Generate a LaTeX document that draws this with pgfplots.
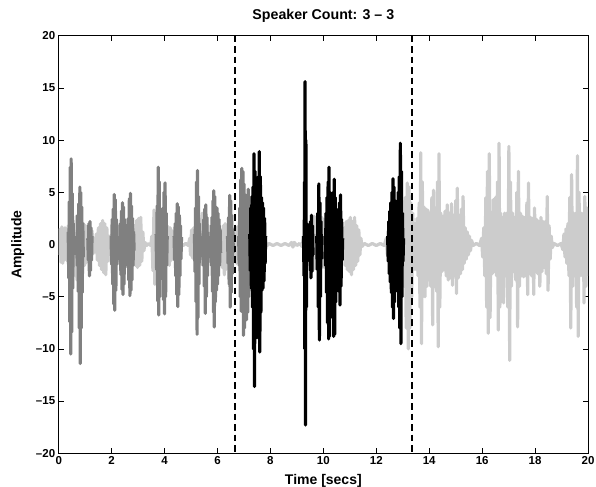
\documentclass[border=0pt]{standalone}
\usepackage{fontspec}
\setmainfont{Liberation Sans}
\usepackage{pgfplots}
\pgfplotsset{compat=1.18}

\definecolor{spkA}{rgb}{0.8,0.8,0.8}
\definecolor{spkB}{rgb}{0.5,0.5,0.5}
\definecolor{spkC}{rgb}{0,0,0}

\begin{document}
\begin{tikzpicture}
\useasboundingbox (-58.7pt,-33pt) rectangle (537.3pt,453.3pt);
\begin{axis}[
    scale only axis,
    width=529.3pt, height=417.6pt,
    xmin=0, xmax=20, ymin=-20, ymax=20,
    xtick={0,2,...,20},
    xticklabels={0,2,4,6,8,10,12,14,16,18,20},
    ytick={-20,-15,...,20},
    yticklabels={--20,--15,--10,--5,0,5,10,15,20},
    tick label style={font=\fontsize{11.5}{13}\selectfont\bfseries},
    tick align=inside,
    major tick length=5pt,
    tick style={black, line width=0.7pt},
    axis line style={line width=0.8pt},
    title={Speaker Count: 3 -- 3},
    title style={font=\fontsize{14.2}{16}\selectfont\bfseries, at={(axis description cs:0.5,1.0256)}, anchor=base},
    xlabel={Time [secs]},
    xlabel style={font=\fontsize{14}{16}\selectfont\bfseries, at={(axis description cs:0.5,0)}, anchor=base, yshift=-31pt},
    ylabel={Amplitude},
    ylabel style={font=\fontsize{14}{16}\selectfont\bfseries, at={(axis description cs:-0.0703,0.5)}, anchor=base},
    unbounded coords=jump,
    wave/.style={line width=3.2pt, line join=round, mark=none},
]

% speaker 3 / background signal (light gray)
\addplot[wave, spkA] table {
t y
0.00 0.3
0.03 -0.9
0.06 1.5
0.09 -1.7
0.12 1.7
0.15 -1.8
0.18 1.4
0.21 -1.5
0.24 1.6
0.27 -1.4
0.30 1.2
0.33 -1.6
0.36 1.8
0.40 -2.0
0.44 1.9
0.48 -2.2
0.52 2.0
0.56 -2.4
0.60 2.2
0.63 -3.0
0.66 2.7
0.69 -3.4
0.72 2.6
0.75 -3.2
0.78 2.4
0.82 -2.8
0.86 2.2
0.90 -2.4
0.94 2.0
0.98 -2.0
1.02 1.8
1.06 -1.7
1.10 1.6
1.14 -1.5
1.18 1.6
1.22 -1.4
1.26 1.3
1.30 -0.9
1.34 0.6
1.38 -0.7
1.42 1.0
1.46 -1.5
1.50 1.6
1.54 -2.0
1.58 2.0
1.62 -2.4
1.66 2.3
1.70 -2.7
1.74 2.0
1.78 -2.9
1.82 1.6
1.86 -1.6
1.90 0.8
1.94 -0.5
1.98 0.9
2.02 -1.6
2.06 1.8
2.10 -1.8
2.14 1.7
2.18 -1.6
2.22 1.5
2.26 -1.5
2.30 1.8
2.34 -1.7
2.38 1.6
2.42 -1.6
2.46 1.7
2.50 -1.8
2.54 1.6
2.58 -1.5
2.62 1.7
2.66 -1.7
2.70 1.5
2.74 -1.6
2.78 1.4
2.82 -1.5
2.86 1.8
2.90 -2.0
2.94 2.3
2.98 -2.2
3.02 2.5
3.06 -2.0
3.10 2.6
3.14 -1.6
3.18 1.2
3.22 -0.6
3.26 0.2
3.32 -0.1
3.40 0.1
3.48 -0.1
3.52 0.8
3.56 -2.5
3.60 3.3
3.63 -3.8
3.66 3.0
3.70 -3.2
3.74 2.6
3.78 -2.8
3.82 2.4
3.86 -2.6
3.90 2.2
3.94 -2.4
3.98 2.0
4.02 -2.2
4.06 2.0
4.10 -1.9
4.14 1.7
4.18 -2.0
4.22 1.6
4.26 -1.5
4.30 1.3
4.34 -1.3
4.38 1.2
4.42 -1.2
4.46 1.0
4.50 -1.0
4.54 0.7
4.58 -0.4
4.62 0.1
4.70 -0.1
4.80 0.1
4.90 -0.1
4.95 0.6
4.98 -1.0
5.02 1.4
5.06 -1.3
5.10 1.6
5.14 -1.4
5.18 1.5
5.22 -1.6
5.26 1.8
5.30 -1.8
5.34 2.4
5.38 -1.9
5.42 3.0
5.46 -1.8
5.50 2.6
5.54 -1.9
5.58 2.2
5.62 -1.8
5.66 1.8
5.70 -1.6
5.74 1.6
5.78 -1.6
5.82 1.5
5.86 -1.5
5.90 1.4
5.94 -1.4
5.98 1.4
6.02 -1.3
6.06 1.2
6.10 -1.2
6.14 1.4
6.18 -2.2
6.22 1.8
6.26 -2.9
6.29 2.0
6.32 -2.4
6.36 1.6
6.40 -1.6
6.44 1.5
6.48 -1.6
6.52 1.6
6.56 -1.6
6.60 1.5
6.64 -1.6
6.68 1.6
6.72 -1.8
6.76 1.7
6.80 -1.8
6.84 1.8
6.88 -2.0
6.92 2.0
6.96 -2.0
7.00 2.0
7.04 -2.0
7.08 2.0
7.12 -2.0
7.16 1.8
7.20 -1.8
7.24 1.6
7.28 -1.6
7.32 1.5
7.36 -1.5
7.40 1.5
7.44 -1.5
7.48 1.4
7.52 -1.4
7.56 1.2
7.60 -1.2
7.64 1.0
7.68 -1.0
7.72 0.8
7.76 -0.8
7.80 0.5
7.85 -0.15
7.95 0.1
8.10 -0.1
8.25 0.1
8.40 -0.1
8.55 0.1
8.70 -0.1
8.80 0.2
8.85 -0.25
8.90 0.2
9.00 -0.1
9.10 0.1
9.20 -0.2
9.25 0.6
9.30 -0.8
9.35 0.8
9.40 -1.0
9.44 1.4
9.48 -2.0
9.52 2.2
9.56 -2.2
9.60 2.5
9.63 -2.4
9.66 2.7
9.69 -2.3
9.72 2.5
9.75 -2.2
9.78 2.0
9.82 -2.0
9.86 2.0
9.90 -2.0
9.94 2.6
9.98 -2.2
10.02 2.4
10.06 -2.2
10.10 2.2
10.14 -2.2
10.18 2.0
10.22 -2.0
10.26 2.0
10.30 -2.0
10.34 2.0
10.38 -2.0
10.42 2.0
10.46 -2.0
10.50 1.8
10.54 -1.8
10.58 1.6
10.62 -1.6
10.66 1.4
10.70 -1.2
10.73 1.0
10.76 -1.2
10.79 1.6
10.82 -2.0
10.86 2.2
10.90 -2.4
10.94 2.3
10.98 -2.6
11.02 2.6
11.06 -2.9
11.10 2.2
11.14 -2.4
11.18 2.6
11.22 -2.0
11.26 1.8
11.30 -1.6
11.34 1.4
11.38 -1.0
11.42 0.6
11.46 -0.2
11.55 0.1
11.70 -0.1
11.85 0.1
12.00 -0.1
12.15 0.1
12.30 -0.1
12.38 0.6
12.42 -1.0
12.46 1.4
12.50 -1.6
12.54 1.8
12.58 -2.0
12.62 2.0
12.66 -2.0
12.70 2.0
12.74 -2.0
12.78 2.0
12.82 -2.0
12.86 2.0
12.90 -2.0
12.94 2.0
12.98 -2.0
13.02 2.5
13.05 -4.0
13.09 4.5
13.13 -8.0
13.17 5.9
13.21 -10.0
13.24 5.5
13.27 -8.0
13.30 4.0
13.34 -5.0
13.38 3.0
13.42 -2.4
13.46 2.0
13.50 -2.4
13.54 2.5
13.58 -3.0
13.62 4.0
13.65 -6.0
13.68 8.8
13.71 -9.5
13.74 6.0
13.77 -5.0
13.80 3.6
13.84 -5.0
13.88 3.4
13.92 -4.0
13.95 3.3
13.98 -2.8
14.02 3.0
14.06 -4.0
14.10 4.5
14.13 -7.7
14.16 5.2
14.20 -4.0
14.24 3.5
14.28 -4.5
14.31 6.0
14.34 -9.8
14.37 8.7
14.40 -6.0
14.44 3.0
14.48 -2.6
14.52 2.7
14.56 -2.4
14.60 3.2
14.64 -3.0
14.68 3.8
14.72 -3.4
14.76 3.0
14.80 -3.2
14.84 3.9
14.88 -3.9
14.92 2.8
14.96 -3.0
15.00 4.2
15.03 -4.7
15.06 5.4
15.10 -3.2
15.14 2.8
15.18 -2.8
15.22 3.4
15.26 -2.4
15.28 4.6
15.32 -1.8
15.36 1.6
15.40 -1.4
15.44 1.2
15.48 -1.0
15.52 0.8
15.56 -0.6
15.60 0.4
15.66 -0.1
15.78 0.1
15.90 -0.1
15.98 0.6
16.02 -1.2
16.06 1.6
16.10 -3.0
16.14 4.5
16.17 -6.0
16.20 7.0
16.23 -8.5
16.27 8.7
16.30 -7.0
16.34 2.8
16.38 -2.8
16.42 4.3
16.46 -2.6
16.50 4.5
16.54 -3.0
16.58 6.0
16.61 -8.2
16.64 9.7
16.67 -6.0
16.70 3.0
16.74 -3.0
16.78 2.6
16.81 -5.6
16.85 3.0
16.89 -3.0
16.93 3.0
16.97 -6.0
17.01 9.4
17.04 -11.1
17.07 6.0
17.11 -4.0
17.15 3.0
17.19 -2.6
17.23 2.6
17.27 -3.4
17.31 5.0
17.34 -7.9
17.37 7.0
17.41 -4.0
17.45 3.0
17.49 -3.0
17.53 2.7
17.57 -3.1
17.61 2.6
17.65 -3.0
17.69 4.0
17.72 -4.8
17.75 5.9
17.79 -2.8
17.83 2.6
17.87 -3.0
17.91 2.5
17.95 -4.8
17.98 3.5
18.02 -2.6
18.06 2.4
18.10 -2.8
18.14 2.2
18.18 -4.0
18.22 2.6
18.26 -2.6
18.30 2.2
18.34 -2.2
18.38 2.2
18.42 -2.8
18.46 4.6
18.49 -4.4
18.53 1.8
18.57 -1.4
18.61 0.8
18.65 -0.3
18.72 0.1
18.85 -0.1
18.98 0.1
19.05 -0.5
19.09 1.0
19.13 -1.2
19.17 1.5
19.20 -1.8
19.24 2.0
19.28 -3.0
19.31 4.5
19.35 -8.0
19.38 6.7
19.42 -4.0
19.46 3.0
19.50 -3.0
19.54 3.0
19.57 -6.0
19.60 8.5
19.63 -8.8
19.66 5.0
19.70 -3.0
19.74 3.0
19.78 -3.0
19.82 3.0
19.85 -5.6
19.88 4.6
19.92 -4.0
19.96 3.5
20.00 -3.0
};

% speaker 1 (medium gray)
\addplot[wave, spkB] table {
t y
0.36 1.2
0.38 -3.2
0.40 4.1
0.42 -7.4
0.44 7.4
0.455 -10.5
0.47 8.2
0.49 -8.4
0.51 4.9
0.53 -4.2
0.55 2.0
0.57 -1.0
0.58 nan
0.68 0.8
0.70 -2.0
0.72 2.8
0.74 -4.5
0.76 3.9
0.78 -8.0
0.80 5.5
0.815 -11.4
0.83 5.0
0.85 -8.0
0.87 3.6
0.89 -4.6
0.91 2.0
0.93 -1.2
0.94 nan
1.10 0.6
1.12 -1.5
1.14 2.0
1.16 -3.0
1.18 2.2
1.20 -2.5
1.22 1.6
1.24 -1.5
1.26 0.8
1.27 nan
1.98 0.8
2.00 -1.9
2.02 2.4
2.04 -3.8
2.06 3.4
2.08 -5.7
2.10 4.8
2.12 -6.3
2.14 4.3
2.16 -4.4
2.18 2.4
2.20 -1.9
2.22 0.7
2.23 nan
2.29 0.8
2.31 -1.4
2.33 2.0
2.35 -2.9
2.37 3.2
2.39 -4.3
2.41 4.0
2.43 -4.8
2.45 3.6
2.47 -3.8
2.49 2.4
2.51 -2.2
2.53 1.0
2.54 nan
2.59 0.8
2.61 -1.5
2.63 2.5
2.65 -3.4
2.67 4.4
2.69 -4.9
2.71 4.9
2.73 -4.4
2.75 3.7
2.77 -3.4
2.79 2.5
2.81 -2.0
2.83 1.2
2.85 -0.6
2.86 nan
3.68 1.0
3.70 -2.4
3.72 3.7
3.74 -5.4
3.76 7.4
3.78 -6.75
3.80 6.0
3.82 -5.0
3.84 3.4
3.86 -2.4
3.88 1.2
3.89 nan
3.90 1.0
3.92 -2.6
3.94 3.5
3.96 -5.3
3.98 5.0
4.00 -6.65
4.02 5.9
4.04 -5.0
4.06 3.0
4.08 -2.0
4.10 0.8
4.11 nan
4.36 0.8
4.38 -1.5
4.40 2.0
4.42 -3.0
4.44 3.0
4.46 -4.8
4.48 3.9
4.50 -5.95
4.52 3.6
4.54 -4.8
4.56 2.8
4.58 -3.0
4.60 1.8
4.62 -1.4
4.64 0.7
4.65 nan
5.13 1.0
5.15 -2.6
5.17 3.5
5.19 -5.5
5.21 6.0
5.23 -8.6
5.245 7.1
5.26 -7.0
5.28 4.6
5.30 -3.8
5.32 2.0
5.34 -1.2
5.35 nan
5.44 0.8
5.46 -2.0
5.48 2.4
5.50 -4.0
5.52 3.4
5.54 -6.6
5.56 3.8
5.58 -5.0
5.60 2.6
5.62 -3.0
5.64 1.2
5.65 nan
5.75 0.8
5.77 -2.0
5.79 2.6
5.81 -4.5
5.83 4.2
5.85 -6.5
5.86 5.15
5.88 -7.9
5.90 4.6
5.92 -5.5
5.94 3.6
5.96 -4.4
5.98 3.5
6.00 -3.8
6.02 3.0
6.04 -3.0
6.06 2.4
6.08 -2.0
6.10 1.4
6.12 -0.8
6.13 nan
6.38 0.8
6.40 -1.8
6.42 2.6
6.44 -3.8
6.46 4.7
6.48 -6.0
6.50 4.2
6.52 -4.6
6.54 2.8
6.56 -2.8
6.58 1.4
6.60 -0.8
6.61 nan
6.80 0.8
6.82 -2.0
6.84 3.5
6.86 -5.0
6.88 6.2
6.90 -6.4
6.92 7.3
6.94 -6.0
6.96 7.0
6.98 -8.7
7.00 5.8
7.02 -8.0
7.04 4.8
7.06 -6.0
7.08 4.6
7.10 -7.2
7.12 4.4
7.14 -6.5
7.16 5.3
7.18 -5.0
7.20 3.6
7.22 -3.0
7.24 1.8
};

% speaker 2 (black)
\addplot[wave, spkC] table {
t y
7.22 1.0
7.24 -2.5
7.26 3.5
7.28 -4.2
7.30 4.6
7.32 -6.0
7.34 5.5
7.36 -10.0
7.38 8.7
7.40 -13.6
7.42 7.0
7.44 -9.0
7.46 5.5
7.48 -6.0
7.50 5.0
7.52 -6.5
7.54 6.5
7.56 -9.0
7.58 8.9
7.60 -10.3
7.62 6.5
7.64 -6.5
7.66 4.5
7.68 -4.4
7.70 4.0
7.72 -4.2
7.74 3.5
7.76 -3.5
7.78 2.5
7.80 -1.8
7.82 0.8
7.83 nan
9.25 0.8
9.27 -3.0
9.29 6.0
9.30 -10.0
9.31 15.6
9.325 -17.3
9.34 10.0
9.36 -6.0
9.38 2.0
9.40 -0.8
9.41 nan
9.47 0.6
9.49 -1.6
9.51 2.2
9.53 -3.2
9.55 2.8
9.57 -2.6
9.59 1.8
9.61 -1.0
9.62 nan
9.75 0.8
9.77 -2.4
9.79 3.0
9.81 -6.0
9.83 5.8
9.85 -9.15
9.87 4.0
9.89 -5.0
9.91 2.2
9.93 -1.4
9.94 nan
10.06 0.8
10.08 -2.0
10.10 3.0
10.12 -4.6
10.14 4.5
10.16 -7.5
10.18 6.0
10.20 -9.05
10.21 7.4
10.23 -8.8
10.25 5.0
10.27 -6.0
10.29 4.0
10.31 -5.5
10.33 4.5
10.35 -7.0
10.37 5.0
10.39 -8.8
10.41 6.25
10.43 -8.6
10.45 4.5
10.47 -5.5
10.49 3.0
10.51 -3.5
10.53 2.6
10.55 -3.2
10.57 3.4
10.59 -4.5
10.61 4.0
10.63 -5.8
10.65 4.75
10.67 -4.0
10.69 2.4
10.71 -1.5
10.73 0.6
10.74 nan
12.43 0.8
12.45 -1.6
12.47 2.2
12.49 -2.8
12.51 3.2
12.53 -3.6
12.55 4.0
12.57 -4.6
12.59 5.0
12.61 -6.0
12.63 6.3
12.65 -7.1
12.67 5.5
12.69 -5.5
12.71 4.2
12.73 -4.0
12.75 3.6
12.77 -3.6
12.79 3.8
12.81 -4.5
12.83 5.0
12.85 -6.0
12.87 6.5
12.89 -8.0
12.91 9.7
12.93 -9.5
12.95 7.0
12.97 -5.0
12.99 3.0
13.01 -1.6
13.03 0.6
};

% segment boundaries
\addplot[black, line width=2pt, dash pattern=on 6.5pt off 4pt, mark=none] coordinates {(6.6667,20) (6.6667,-20)};
\addplot[black, line width=2pt, dash pattern=on 6.5pt off 4pt, mark=none] coordinates {(13.3333,20) (13.3333,-20)};
\end{axis}
\end{tikzpicture}
\end{document}
